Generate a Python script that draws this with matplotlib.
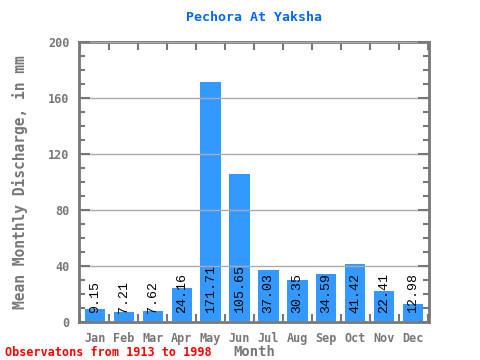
import matplotlib
matplotlib.use("Agg")
import matplotlib.pyplot as plt
import numpy as np

months = ["Jan", "Feb", "Mar", "Apr", "May", "Jun", "Jul", "Aug", "Sep", "Oct", "Nov", "Dec"]
discharge = [9.15, 7.21, 7.62, 24.16, 171.71, 105.65, 37.03, 30.35, 34.59, 41.42, 22.41, 12.98]

plt.rcParams['font.family'] = ['DejaVu Sans Mono']
gray = "#777777"

fig = plt.figure(figsize=(4.8, 3.6), dpi=100)
ax = fig.add_axes([79 / 480, 38 / 360, 350 / 480, 280 / 360])

x = np.arange(len(months))
ax.bar(x, discharge, width=0.7, color="#3399ff", zorder=2)
for xi, v in zip(x, discharge):
    ax.text(xi, 6.5, "%.2f" % v, rotation=90, ha="center", va="bottom",
            fontsize=9.5, family="Liberation Mono", color="black", zorder=4)

ax.set_xlim(-0.55, 11.55)
ax.set_ylim(0, 200)
ax.set_yticks([0, 40, 80, 120, 160, 200])
ax.set_yticks(np.arange(0, 201, 10), minor=True)
ax.set_xticks(x)
ax.set_xticklabels(months)
ax.set_xticks(np.arange(-0.5, 12, 1), minor=True)
ax.grid(axis="y", which="major", color="#aaaaaa", linewidth=1, zorder=3)
ax.set_axisbelow(False)

for s in ax.spines.values():
    s.set_color(gray)
    s.set_linewidth(2)
ax.tick_params(axis="x", which="major", length=0, colors=gray, labelsize=8.5, pad=7)
ax.tick_params(axis="x", which="minor", direction="in", length=6, width=1.5,
               color=gray, top=True, bottom=True)
ax.tick_params(axis="y", which="major", direction="in", length=8, width=1.5,
               colors=gray, labelsize=8.5, right=True, pad=7)
ax.tick_params(axis="y", which="minor", direction="in", length=4, width=1.5,
               color=gray, right=True)
for lbl in ax.get_xticklabels() + ax.get_yticklabels():
    lbl.set_fontweight("bold")

ax.set_xlabel("Month", fontsize=10, fontweight="bold", color=gray, labelpad=0)
ax.set_ylabel("Mean Monthly Discharge, in mm", fontsize=10.5, fontweight="bold",
              color=gray, labelpad=14)
ax.set_title("Pechora At Yaksha", fontsize=9.5, fontweight="bold", color="#0066ff", pad=15)
fig.text(5 / 480, 4 / 360, "Observatons from 1913 to 1998", fontsize=8.5,
         fontweight="bold", color="red")

fig.savefig("out.png", dpi=100)
